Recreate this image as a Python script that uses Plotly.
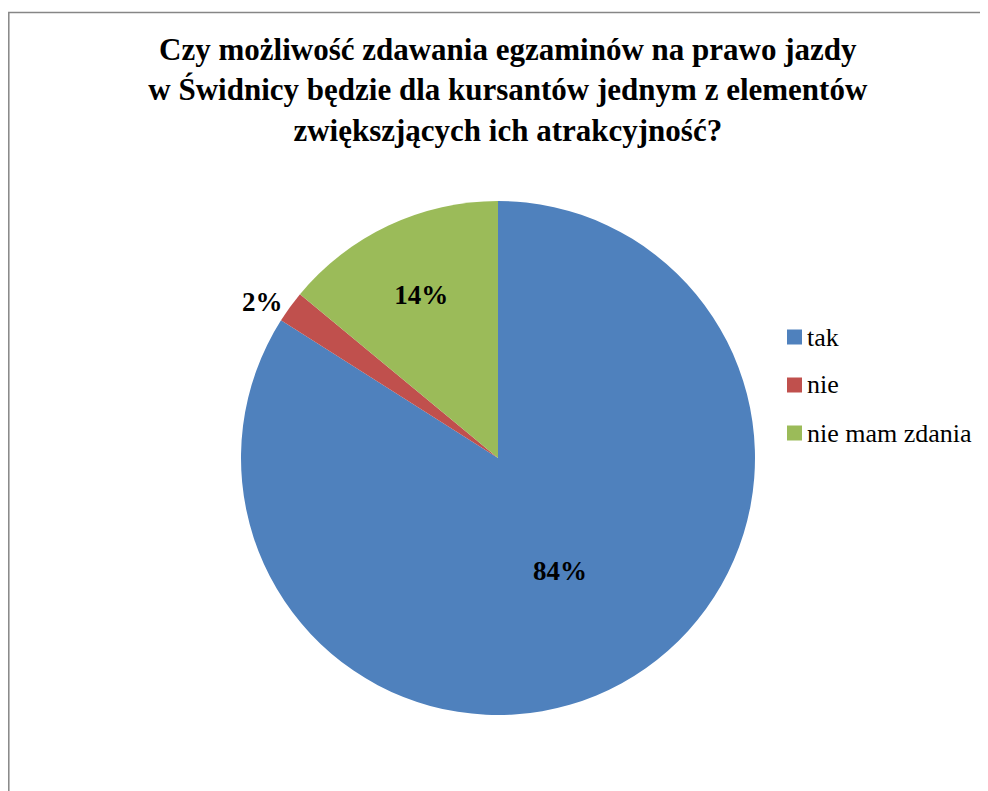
import plotly.graph_objects as go

# dane z wykresu
labels = ['tak', 'nie', 'nie mam zdania']
values = [84, 2, 14]
colors = ['#4F81BD', '#C0504D', '#9BBB59']
text_pos = ['inside', 'outside', 'inside']

title_text = ('Czy możliwość zdawania egzaminów na prawo jazdy<br>'
              'w Świdnicy będzie dla kursantów jednym z elementów<br>'
              'zwiększjących ich atrakcyjność?')

# strona ma 8px marginesu body, wiec figura jest o 8px mniejsza
W, H = 980, 783
SERIF = 'Liberation Serif, Times New Roman, serif'

fig = go.Figure()
fig.add_trace(go.Pie(
    labels=labels,
    values=values,
    sort=False,
    direction='clockwise',
    rotation=0,
    marker=dict(colors=colors, line=dict(color='white', width=0)),
    texttemplate='<b>%{percent:.0%}</b>',
    textposition=text_pos,
    insidetextorientation='horizontal',
    textfont=dict(family=SERIF, size=27, color='black'),
    outsidetextfont=dict(family=SERIF, size=27, color='black'),
    automargin=False,
    domain=dict(x=[233 / W, 747 / W], y=[1 - 707 / H, 1 - 193 / H]),
    hoverinfo='label+percent',
    showlegend=False,
))

# legenda rysowana recznie (kwadrat + tekst), zeby odstepy byly jak w Excelu
shapes = [dict(type='rect', xref='paper', yref='paper',
               x0=0.8 / W, x1=1.02, y0=-0.02, y1=1 - 4.5 / H,
               line=dict(color='#868686', width=1.5))]
annotations = []
for i, (lab, col) in enumerate(zip(labels, colors)):
    yc = 329 + 48 * i
    shapes.append(dict(type='rect', xref='paper', yref='paper',
                       x0=779 / W, x1=794 / W,
                       y0=1 - (yc + 7.5) / H, y1=1 - (yc - 7.5) / H,
                       fillcolor=col, line=dict(width=0)))
    annotations.append(dict(text=lab, xref='paper', yref='paper',
                            x=797 / W, y=1 - yc / H,
                            xanchor='left', yanchor='middle', showarrow=False,
                            font=dict(family=SERIF, size=26, color='black')))

fig.update_layout(
    width=W, height=H,
    margin=dict(l=0, r=0, t=0, b=0),
    paper_bgcolor='white',
    font=dict(family=SERIF, color='black'),
    title=dict(
        text='<b>' + title_text + '</b>',
        x=0.51, xanchor='center',
        y=1 - 52 / H, yanchor='top',
        font=dict(family=SERIF, size=31, color='black'),
    ),
    shapes=shapes,
    annotations=annotations,
)

fig.write_html('out.html')
